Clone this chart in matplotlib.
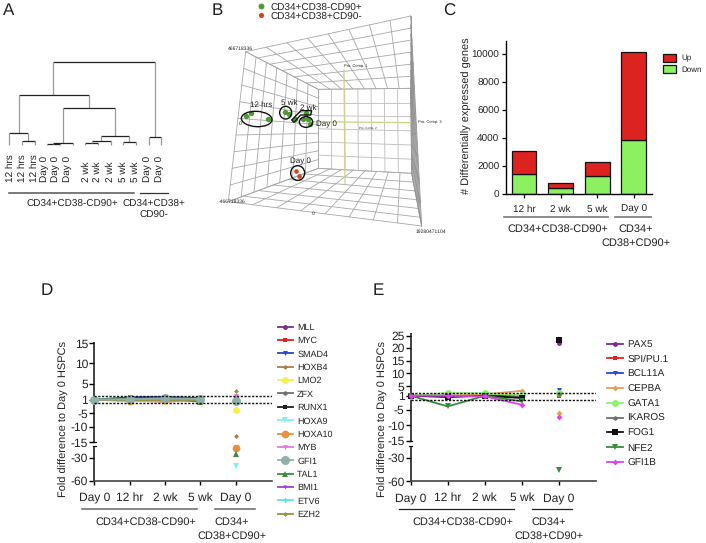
import numpy as np
import matplotlib
matplotlib.use("Agg")
import matplotlib.pyplot as plt
from matplotlib.patches import Ellipse, Polygon

plt.rcParams['font.family'] = ['Liberation Sans', 'DejaVu Sans']
plt.rcParams['text.color'] = '#222222'
plt.rcParams['axes.unicode_minus'] = False
plt.rcParams['text.hinting'] = 'no_hinting'
plt.rcParams['text.hinting_factor'] = 1

W, H = 706, 543
TXT = '#222222'
PANEL_FS = 12.5

# ---------- Panel A data ----------
leaf_labels = ['12 hrs','12 hrs','12 hrs','Day 0','Day 0','Day 0','2 wk','2 wk','2 wk','5 wk','5 wk','Day 0','Day 0']
leaf_pos = [30,67,103,135,170,205,258,293,330,370,405,445,482]
# left x, right x, merge level, left child bottom, right child bottom
dendro_left  = [160, 57, 28, 66,190,142,160,303,256,275,370,446]
dendro_right = [465,268, 85,104,346,180,218,388,295,332,407,484]
dendro_level = [185,285,400,423,323,431,428,408,428,424,425,410]
dendro_lbot  = [285,400,435,435,428,435,431,424,435,428,435,435]
dendro_rbot  = [410,323,423,435,408,435,435,425,435,435,435,435]

# ---------- Panel B data ----------
pca_green_x = [137,154,203,256,266,284,310,323,318,330]
pca_green_y = [349,339,358,335,343,358,357,357,340,372]
pca_red_x = [287,298]
pca_red_y = [512,528]

# ---------- Panel C data ----------
c_labels = ['12 hr','2 wk','5 wk','Day 0']
c_down = [1450,450,1250,3850]
c_up = [1600,350,1000,6300]

# ---------- Panel D data ----------
xlabels = ['Day 0','12 hr','2 wk','5 wk','Day 0']
d_names = ['MLL','MYC','SMAD4','HOXB4','LMO2','ZFX','RUNX1','HOXA9','HOXA10','MYB','GFI1','TAL1','BMI1','ETV6','EZH2']
d_colors = ['#7b2d8e','#e02020','#2a44c8','#a67c52','#f4f050','#707070','#202020','#80f0f0','#e8903c','#e878d0','#8fb0a8','#3c8a3c','#a040d0','#60e0e8','#9a9040']
d_markers = ['o','s','v','D','o','h','s','v','o','v','o','^','v','P','D']
d_sizes = [3.5,3.5,3.5,2.5,5,3.5,3.5,4.5,5.5,3.5,6.5,4,3,3.5,2.5]
d_series = [[1,1,1,1],[1,-1.2,-1.5,-1],[1,1.6,1.7,1.4],[1,1,1,1],[1,-1.3,-1.2,-1.2],
            [1,1.1,1.2,1.1],[1,1,1.1,1],[1,1,1,-1],[1,-1.3,-1,-1],[1,1,1,1],
            [1,1.1,1.3,1.2],[1,1.1,1.2,-1.5],[1,1,1,1],[1,1,1,1],[1,1,1,1]]
d_day0 = [1.5,1,1,-13,-4,-1.2,1.2,-40,-18,1.8,-1.2,-25,1.1,1,3.2]
d_ticks = [15,10,5,1,-5,-10,-15,-30,-60]

# ---------- Panel E data ----------
e_names = ['PAX5','SPI/PU.1','BCL11A','CEPBA','GATA1','IKAROS','FOG1','NFE2','GFI1B']
e_colors = ['#7b2d8e','#e02020','#2a44c8','#e8a050','#90f070','#707070','#101010','#3c8a3c','#e040f0']
e_markers = ['o','s','v','D','o','h','s','v','D']
e_sizes = [3.5,3.5,3.5,3,5,3.5,4,5,3]
e_series = [[1,1,1,1],[1,1,1,1],[1,1,1,1.2],[1,1,1.5,3],[1,2,1.9,1.2],[1,1,-1,-1.2],
            [1,-1.2,1,-1.5],[1,-4,1,-2.5],[1,1,-1,-3.5]]
e_day0 = [22,1,3.5,-6,2,1.5,23,-45,-7.5]
e_ticks = [25,20,15,10,5,1,-5,-10,-15,-30,-60]

fig = plt.figure(figsize=(W/100, H/100), dpi=100)


def overlay(x, y, w, h):
    """axes over a pixel region, coordinates being 3x pixels with y downwards"""
    ax = fig.add_axes([x/W, 1-(y+h)/H, w/W, h/H], zorder=5)
    ax.set_xlim(0, w*3)
    ax.set_ylim(h*3, 0)
    ax.axis('off')
    ax.patch.set_alpha(0)
    return ax


def axes_px(l, r, t, b):
    return fig.add_axes([l/W, 1-b/H, (r-l)/W, (b-t)/H])


# ---------- A ----------
a = overlay(0, 0, 220, 240)
a.text(8, 33, 'A', fontsize=PANEL_FS, ha='left', va='center')
for l, r, lev, lb, rb in zip(dendro_left, dendro_right, dendro_level, dendro_lbot, dendro_rbot):
    a.plot([l, r], [lev, lev], color='#222222', lw=0.9, solid_capstyle='butt')
    a.plot([l, l], [lev, lb], color='#999999', lw=0.9, solid_capstyle='butt')
    a.plot([r, r], [lev, rb], color='#999999', lw=0.9, solid_capstyle='butt')
for x, s in zip(leaf_pos, leaf_labels):
    a.text(x, 547, s, rotation=90, ha='center', va='bottom', fontsize=7.5)
a.plot([28, 403], [578, 578], color='#555555', lw=1.1)
a.plot([420, 505], [578, 578], color='#333333', lw=0.9)
a.text(218, 612, 'CD34+CD38-CD90+', ha='center', va='center', fontsize=6.9)
a.text(462, 612, 'CD34+CD38+', ha='center', va='center', fontsize=6.9)
a.text(462, 645, 'CD90-', ha='center', va='center', fontsize=6.9)

# ---------- B ----------
b = overlay(200, 0, 260, 240)
b.text(36, 33, 'B', fontsize=PANEL_FS, ha='left', va='center')


def grid(q, nu, nv, col='#a8a8a8'):
    tl, tr, br, bl = [np.array(p, float) for p in q]
    for t in np.linspace(0, 1, nu+1):
        p0, p1 = tl+(tr-tl)*t, bl+(br-bl)*t
        b.plot([p0[0], p1[0]], [p0[1], p1[1]], color=col, lw=0.6, zorder=1)
    for t in np.linspace(0, 1, nv+1):
        p0, p1 = tl+(bl-tl)*t, tr+(br-tr)*t
        b.plot([p0[0], p1[0]], [p0[1], p1[1]], color=col, lw=0.6, zorder=1)


FTL, FTR, FBR, FBL = (137,155), (632,48), (665,678), (85,605)
BTL, BTR, BBR, BBL = (355,268), (632,265), (635,520), (355,505)
grid((BTL, BTR, BBR, BBL), 7, 6, '#bcbcbc')
grid((FTL, BTL, BBL, FBL), 7, 9)
grid((FTL, FTR, BTR, BTL), 8, 6)
grid((FBL, FBR, BBR, BBL), 8, 6)
grid((BTR, FTR, FBR, BBR), 8, 9, '#909090')
b.plot([432, 435], [210, 550], color='#cfd08a', lw=0.9, zorder=2)
b.plot([330, 632], [365, 368], color='#cfd08a', lw=0.9, zorder=2)
b.scatter(pca_green_x, pca_green_y, s=15, color='#4f9a32', zorder=3, linewidths=0)
b.scatter(pca_red_x, pca_red_y, s=11, color='#d8431f', zorder=3, linewidths=0)
for (cx, cy, w, h, ang) in [(170,357,92,46,3),(257,338,36,38,0),(318,366,40,32,0),(293,519,42,44,0)]:
    b.add_patch(Ellipse((cx, cy), w, h, angle=ang, fill=False, ec='#111111', lw=1.0, zorder=4))
b.add_patch(Polygon([(275,360),(303,332),(335,332),(332,345),(302,345),(282,367)], closed=True,
                    fill=False, ec='#111111', lw=1.0, zorder=4))
for x, y, s in [(183,315,'12 hrs'),(267,310,'5 wk'),(325,323,'2 wk'),(380,372,'Day 0'),(302,485,'Day 0')]:
    b.text(x, y, s, fontsize=5.8, ha='center', va='center', zorder=6)
b.scatter([182], [18], s=18, color='#4f9a32', linewidths=0)
b.scatter([182], [45], s=14, color='#d8431f', linewidths=0)
b.text(210, 24, 'CD34+CD38-CD90+', fontsize=7, va='center')
b.text(210, 52, 'CD34+CD38+CD90-', fontsize=7, va='center')
for x, y, s, fs in [(120,146,'466718336',3.8),(97,606,'-466718336',3.8),(122,370,'0',3.8),(340,642,'0',3.8),
                    (692,694,'19280471104',3.8),(690,365,'Pro. Comp. 3',3),(467,199,'Pro. Comp. 1',3),(505,382,'Pro. Comp. 2',2.4)]:
    b.text(x, y, s, fontsize=fs, ha='center', va='center', zorder=6)

# ---------- C ----------
c = axes_px(505.7, 652, 41, 193.8)
xc = np.arange(len(c_labels))
c.bar(xc, c_down, width=0.68, color='#8cf060', edgecolor='#111111', lw=0.9, label='Down')
c.bar(xc, c_up, bottom=c_down, width=0.68, color='#dc2320', edgecolor='#111111', lw=0.9, label='Up')
c.set_xlim(-0.5, 3.5)
c.set_ylim(0, 10950)
c.set_xticks(xc, c_labels, fontsize=7)
c.set_yticks([0,2000,4000,6000,8000,10000])
c.tick_params(axis='y', labelsize=7, length=3, width=0.9, pad=1.5, labelcolor=TXT)
c.tick_params(axis='x', length=3, width=0.9, pad=5, labelcolor=TXT)
for s in ['top','right']:
    c.spines[s].set_visible(False)
for s in ['left','bottom']:
    c.spines[s].set_linewidth(1)
h, l = c.get_legend_handles_labels()
c.legend(h[::-1], l[::-1], frameon=False, fontsize=6.1, loc='upper left',
         bbox_to_anchor=(663/W, 1-54/H), bbox_transform=fig.transFigure,
         handlelength=1.55, handleheight=1.0, handletextpad=0.65, labelspacing=0.34, borderpad=0, borderaxespad=0)
oc = overlay(440, 0, 266, 260)
oc.text(8, 33, 'C', fontsize=PANEL_FS, ha='left', va='center')
c.set_ylabel('# Differentially expressed genes', fontsize=8, color=TXT)
c.yaxis.set_label_coords(97, 348, transform=oc.transData)
oc.plot([192, 503], [651, 651], color='#777777', lw=1.2)
oc.plot([525, 632], [651, 651], color='#777777', lw=1.2)
oc.text(354, 688, 'CD34+CD38-CD90+', fontsize=7.8, ha='center', va='center')
oc.text(588, 688, 'CD34+', fontsize=7.8, ha='center', va='center')
oc.text(588, 729, 'CD38+CD90+', fontsize=7.8, ha='center', va='center')


# ---------- D / E ----------
def fold_panel(ax, names, colors, markers, sizes, series, day0, ticks, vals, pos, xmax, ytop, lbreak, ubreak, xfs, top=None):
    vals = np.array(vals, float)
    h = -np.array(pos, float)
    ax.set_yscale('function', functions=(lambda v: np.interp(v, vals, h), lambda p: np.interp(p, h, vals)))
    ax.set_xlim(0, xmax)
    ax.set_ylim(-60, ytop)
    ax.axhline(2, color='#111111', lw=1, ls=(0, (1.6, 1.1)), zorder=7)
    ax.axhline(-2, color='#111111', lw=1, ls=(0, (1.6, 1.1)), zorder=7)
    for n, col, m, ms, s, d in zip(names, colors, markers, sizes, series, day0):
        z = 6 if n == top else 5
        ax.plot(range(4), s, color=col, marker=m, ms=ms, lw=1.3, mew=0, label=n, clip_on=False, zorder=z)
        ax.plot([4], [d], color=col, marker=m, ms=ms, mew=0, ls='none', zorder=z)
    ax.set_xticks(range(5), xlabels, fontsize=xfs)
    ax.set_yticks(ticks)
    ax.minorticks_off()
    ax.tick_params(axis='y', labelsize=8.4, length=3.5, width=1, pad=1, labelcolor=TXT)
    ax.tick_params(axis='x', length=3, width=1, pad=5, labelcolor=TXT)
    for s in ['top','right','left']:
        ax.spines[s].set_visible(False)
    ax.spines['bottom'].set_linewidth(1.2)
    ax.spines['bottom'].set_color('#444444')
    ax.plot([0, 0], [-60, lbreak], color='#111111', lw=1.1, clip_on=False, solid_capstyle='butt')
    ax.plot([0, 0], [ubreak, ytop], color='#111111', lw=1.1, clip_on=False, solid_capstyle='butt')
    for v in (lbreak, ubreak):
        ax.plot([-0.035, 0.035], [v, v], color='#111111', lw=0.9, clip_on=False)


d_vals = [-60,-30,-15.5,-15,-10,-5,-2,-1,1,2,5,10,15,20]
d_pos = [603,534,497,487,441,400,370,360,359,347,311,250,190,130]
d = axes_px(94.3, 271.7, 341.7, 481)
fold_panel(d, d_names, d_colors, d_markers, d_sizes, d_series, d_day0, d_ticks, d_vals, d_pos, 5.02, 15.4, -15.5, -15, 8.3, top='GFI1')
d.legend(frameon=False, fontsize=6.7, loc='upper left', bbox_to_anchor=(278/W, 1-(280+130/3)/H),
         bbox_transform=fig.transFigure, handlelength=1.6, handletextpad=0.46, labelspacing=0.535,
         borderpad=0, borderaxespad=0)
od = overlay(30, 280, 330, 263)
od.text(32, 33, 'D', fontsize=PANEL_FS, ha='left', va='center')
d.set_ylabel('Fold difference to Day 0 HSPCs', fontsize=7.9, color=TXT)
d.yaxis.set_label_coords(117, 416, transform=od.transData)
od.plot([155, 500], [688, 688], color='#666666', lw=1.1)
od.plot([555, 674], [688, 688], color='#666666', lw=1.1)
od.text(347, 725, 'CD34+CD38-CD90+', fontsize=7.8, ha='center', va='center')
od.text(606, 725, 'CD34+', fontsize=7.8, ha='center', va='center')
od.text(606, 767, 'CD38+CD90+', fontsize=7.8, ha='center', va='center')

e_vals = [-60,-30,-15.5,-15,-10,-5,-2,-1,1,2,5,10,15,20,25,30]
e_pos = [604,534,497,482,436,390,360,350,348,340,320,281,243,205,168,130]
e = axes_px(410.7, 596, 333, 481.3)
fold_panel(e, e_names, e_colors, e_markers, e_sizes, e_series, e_day0, e_ticks, e_vals, e_pos, 5.0, 26, -15.5, -15, 8.7)
e.legend(frameon=False, fontsize=7.5, loc='upper left', bbox_to_anchor=(607/W, 1-(280+180/3)/H),
         bbox_transform=fig.transFigure, handlelength=1.5, handletextpad=0.46, labelspacing=0.52,
         borderpad=0, borderaxespad=0)
oe = overlay(370, 280, 336, 263)
oe.text(8, 33, 'E', fontsize=PANEL_FS, ha='left', va='center')
e.set_ylabel('Fold difference to Day 0 HSPCs', fontsize=7.9, color=TXT)
e.yaxis.set_label_coords(54, 416, transform=oe.transData)
oe.plot([87, 432], [687, 687], color='#222222', lw=0.9)
oe.plot([487, 606], [687, 687], color='#222222', lw=0.9)
oe.text(278, 725, 'CD34+CD38-CD90+', fontsize=7.8, ha='center', va='center')
oe.text(537, 725, 'CD34+', fontsize=7.8, ha='center', va='center')
oe.text(537, 767, 'CD38+CD90+', fontsize=7.8, ha='center', va='center')

fig.savefig('out.png', dpi=100)
